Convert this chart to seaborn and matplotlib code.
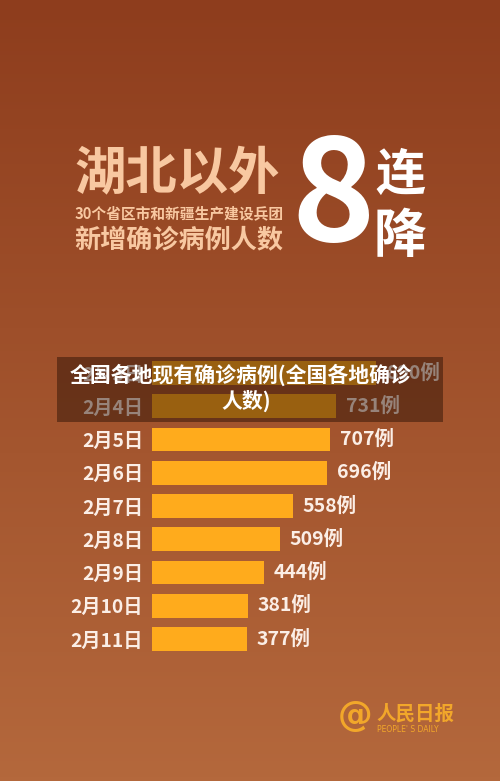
import numpy as np
import matplotlib
matplotlib.use("Agg")
import matplotlib.pyplot as plt
import seaborn as sns
from matplotlib.patches import Rectangle

sns.set_style("white")
plt.rcParams['font.family'] = ['Noto Sans CJK SC', 'DejaVu Sans']

dates = ["2月3日", "2月4日", "2月5日", "2月6日", "2月7日", "2月8日", "2月9日", "2月10日", "2月11日"]
cases = [890, 731, 707, 696, 558, 509, 444, 381, 377]

W, H = 500, 781
BAR = "#ffab1c"
PEACH = "#f8c8a1"
LABEL = "#fbeee6"


def fx(px):
    return px / W


def fy(py):
    return 1 - py / H


fig = plt.figure(figsize=(W / 100, H / 100), dpi=100)

# background gradient
bg = fig.add_axes([0, 0, 1, 1])
top = np.array([142, 61, 29]) / 255
bottom = np.array([180, 104, 60]) / 255
t = np.linspace(0, 1, 200)[:, None]
grad = (top * (1 - t) + bottom * t)[:, None, :]
bg.imshow(grad, extent=[0, 1, 0, 1], aspect="auto")
bg.set_axis_off()

# header
fig.text(fx(74), fy(174), "湖北以外", color=PEACH, fontsize=37, fontweight="heavy",
         ha="left", va="center")
fig.text(fx(75), fy(213), "30个省区市和新疆生产建设兵团", color=PEACH, fontsize=10.6,
         fontweight="heavy", ha="left", va="center")
fig.text(fx(74), fy(240), "新增确诊病例人数", color=PEACH, fontsize=18.8,
         fontweight="heavy", ha="left", va="center")
fig.text(fx(333), fy(200), "8", color="white", fontsize=102, fontweight="heavy",
         ha="center", va="center")
fig.text(fx(400), fy(175), "连", color="white", fontsize=36, fontweight="heavy",
         ha="center", va="center")
fig.text(fx(400), fy(236), "降", color="white", fontsize=38, fontweight="heavy",
         ha="center", va="center")

# bar chart
row = 33.25
ax_top = 373 - row / 2
ax_h = row * len(dates)
ax = fig.add_axes([fx(152), fy(ax_top + ax_h), fx(300), ax_h / H])
sns.barplot(x=cases, y=dates, orient="h", color=BAR, saturation=1, width=0.72,
            linewidth=0, edgecolor="none", ax=ax)
ax.set_xlim(0, 300 / 0.2518)
ax.set_ylim(len(dates) - 0.5, -0.5)
ax.patch.set_alpha(0)
for s in ax.spines.values():
    s.set_visible(False)
ax.set_xticks([])
ax.set_xlabel("")
ax.set_ylabel("")
ax.tick_params(axis="y", length=0, pad=6.5, labelsize=13.8, labelcolor=LABEL)
for lab in ax.get_yticklabels():
    lab.set_fontweight("heavy")
ax.bar_label(ax.containers[0], labels=[f"{v}例" for v in cases], padding=7,
             color=LABEL, fontsize=14, fontweight="heavy")

# title band
fig.add_artist(Rectangle((fx(57), fy(422)), fx(386), 65 / H, transform=fig.transFigure,
                         facecolor="#2a1004", alpha=0.48, edgecolor="none", zorder=5))
fig.text(fx(241), fy(375), "全国各地现有确诊病例(全国各地确诊", color="white", fontsize=15,
         fontweight="bold", ha="center", va="center", zorder=6)
fig.text(fx(246), fy(401), "人数)", color="white", fontsize=15,
         fontweight="bold", ha="center", va="center", zorder=6)

# logo
LOGO = "#f2a72a"
fig.text(fx(355), fy(716), "@", color=LOGO, fontsize=25, fontweight="bold",
         ha="center", va="center", family="DejaVu Sans")
fig.text(fx(376), fy(714), "人民日报", color=LOGO, fontsize=14, fontweight="heavy",
         ha="left", va="center")
fig.text(fx(377), fy(729), "PEOPLE' S DAILY", color=LOGO, fontsize=5.5,
         ha="left", va="center", family="DejaVu Sans")

fig.savefig("out.png", dpi=100)
